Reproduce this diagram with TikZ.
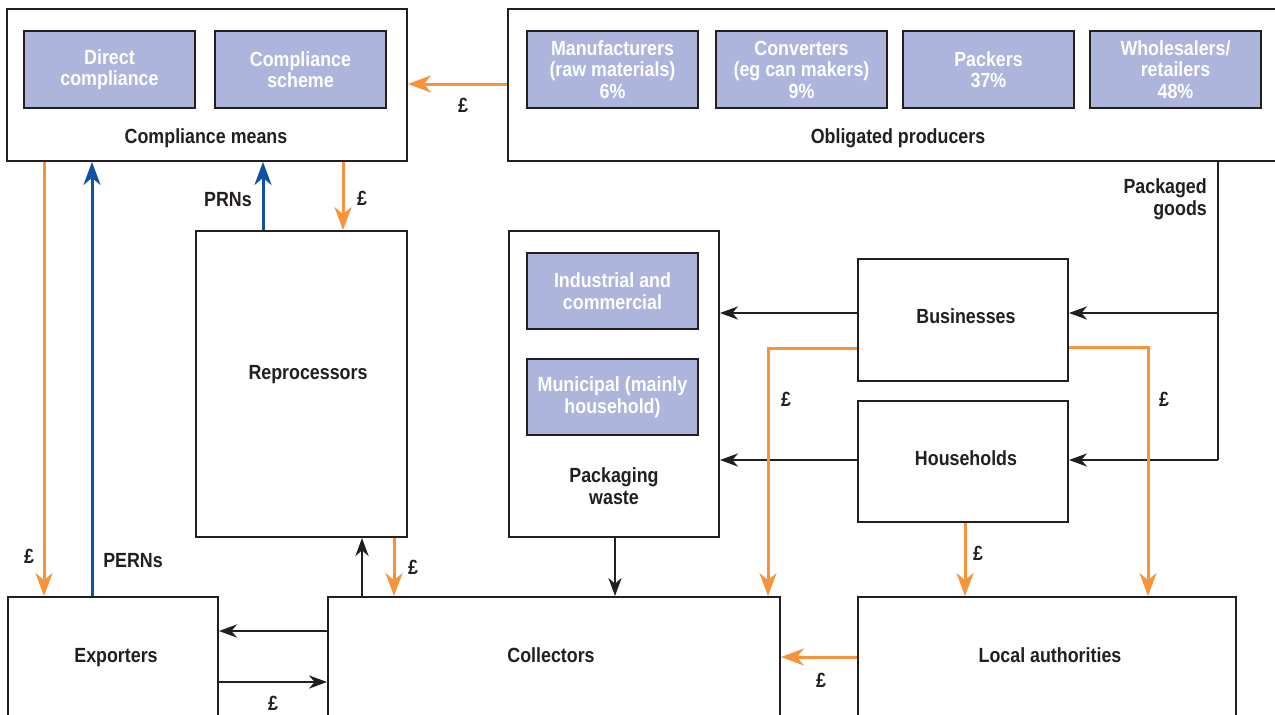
\documentclass[tikz,border=0pt]{standalone}
\usepackage{fontspec}
\setmainfont{Liberation Sans}[FakeStretch=0.87]
\usetikzlibrary{arrows.meta}
\definecolor{dk}{HTML}{231F20}
\definecolor{org}{HTML}{F7943A}
\definecolor{blu}{HTML}{0F52A3}
\definecolor{lav}{HTML}{ADB5DD}
\newcommand\dfont{\fontsize{20.5}{21.5}\selectfont\bfseries}
\begin{document}
\begin{tikzpicture}[x=1pt,y=-1pt,
  box/.style={draw=dk, line width=1.8pt, fill=white, rectangle, inner sep=0pt},
  inbox/.style={draw=dk, line width=1.8pt, fill=lav, text=white, font=\dfont, align=center,
    minimum width=171pt, minimum height=77pt, inner sep=0pt},
  lbl/.style={font=\dfont, text=dk, inner sep=0pt, align=center},
  oar/.style={draw=org, line width=3pt, -{Stealth[length=23pt,width=17pt,inset=7pt]}},
  bar/.style={draw=blu, line width=3pt, -{Stealth[length=23pt,width=17pt,inset=7pt]}},
  kar/.style={draw=dk, line width=2.6pt, -{Stealth[length=18pt,width=13pt,inset=5.5pt]}},
  kln/.style={draw=dk, line width=2.6pt}
]
\clip (0,0) rectangle (1275,715);
\fill[white] (0,0) rectangle (1275,715);

% top boxes
\node[box, minimum width=400pt, minimum height=152pt] (cm) at (207,85) {};
\node[inbox] (dc) at (109.5,69.5) {Direct\\compliance};
\node[inbox] (cs) at (300.5,69.5) {Compliance\\scheme};
\node[lbl, anchor=base] (cml) at (206,143) {Compliance means};

\node[box, minimum width=782pt, minimum height=152pt] (op) at (899,85) {};
\node[inbox] (man) at (612.5,69.5) {Manufacturers\\(raw materials)\\6\%};
\node[inbox] (con) at (801.5,69.5) {Converters\\(eg can makers)\\9\%};
\node[inbox] (pac) at (988.5,69.5) {Packers\\37\%};
\node[inbox] (who) at (1175.5,69.5) {Wholesalers/\\retailers\\48\%};
\node[lbl, anchor=base] (opl) at (898,143) {Obligated producers};

% middle boxes
\node[box, minimum width=211pt, minimum height=306pt] (rep) at (301.5,384) {};
\node[lbl, anchor=base] (repl) at (308,379) {Reprocessors};

\node[box, minimum width=210pt, minimum height=306pt] (pw) at (614,384) {};
\node[inbox, minimum height=76pt] (ic) at (612.5,291) {Industrial and\\commercial};
\node[inbox, minimum height=76pt] (mun) at (612.5,397) {Municipal (mainly\\household)};
\node[lbl] (pwl) at (614,486) {Packaging\\waste};

\node[box, minimum width=210pt, minimum height=122pt] (bus) at (963,320) {};
\node[lbl, anchor=base] (busl) at (966,323) {Businesses};
\node[box, minimum width=210pt, minimum height=121pt] (hh) at (963,461.5) {};
\node[lbl, anchor=base] (hhl) at (966,465) {Households};

% bottom boxes
\node[box, minimum width=210pt, minimum height=133pt] (exp) at (113,663.5) {};
\node[lbl, anchor=base] (expl) at (116,662) {Exporters};
\node[box, minimum width=452pt, minimum height=133pt] (col) at (554,663.5) {};
\node[lbl, anchor=base] (coll) at (551,662) {Collectors};
\node[box, minimum width=378pt, minimum height=133pt] (la) at (1047,663.5) {};
\node[lbl, anchor=base] (lal) at (1050,662) {Local authorities};

% connectors
\draw[oar] (op.west |- 0,84) -- (cm.east |- 0,84);
\node[lbl] (p1) at (463,105) {£};

\draw[oar] (cm.south -| 44,0) -- (exp.north -| 44,0);
\node[lbl] (p2) at (29,556) {£};
\draw[bar] (exp.north -| 92,0) -- (cm.south -| 92,0);
\node[lbl] (pern) at (133,561) {PERNs};

\draw[bar] (rep.north -| 263,0) -- (cm.south -| 263,0);
\node[lbl] (prn) at (228,200) {PRNs};
\draw[oar] (cm.south -| 343,0) -- (rep.north -| 343,0);
\node[lbl] (p3) at (362,198) {£};

\draw[kar] (col.north -| 362,0) -- (rep.south -| 362,0);
\draw[oar] (rep.south -| 394,0) -- (col.north -| 394,0);
\node[lbl] (p4) at (413,567) {£};

\draw[kar] (col.west |- 0,631) -- (exp.east |- 0,631);
\draw[kar] (exp.east |- 0,682) -- (col.west |- 0,682);
\node[lbl] (p5) at (273,703) {£};

\draw[kar] (pw.south -| 615,0) -- (col.north -| 615,0);
\draw[kar] (bus.west |- 0,313) -- (pw.east |- 0,313);
\draw[kar] (hh.west |- 0,460) -- (pw.east |- 0,460);

\coordinate (pg1) at (1218,313);
\coordinate (pg2) at (1218,460);
\draw[kln] (op.south -| pg2) -- (pg2);
\draw[kar] (pg2) -- (hh.east |- pg2);
\draw[kar] (pg1) -- (bus.east |- pg1);
\node[lbl, anchor=east, align=right] (pgl) at (1207,199) {Packaged\\goods};

\draw[oar] (bus.west |- 0,348) -| (col.north -| 768,0);
\node[lbl] (p6) at (786,399) {£};
\draw[oar] (bus.east |- 0,347) -| (la.north -| 1148,0);
\node[lbl] (p7) at (1164,399) {£};
\draw[oar] (hh.south -| 965,0) -- (la.north -| 965,0);
\node[lbl] (p8) at (978,553) {£};
\draw[oar] (la.west |- 0,657) -- (col.east |- 0,657);
\node[lbl] (p9) at (821,680) {£};
\end{tikzpicture}
\end{document}
